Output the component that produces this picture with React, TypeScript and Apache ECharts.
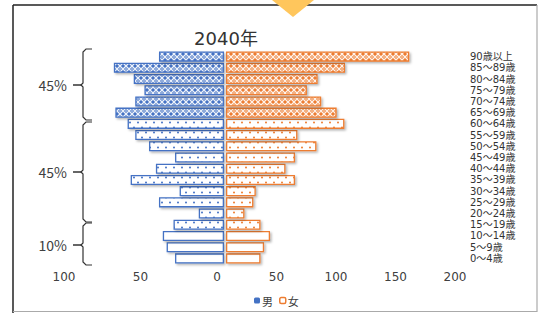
import React, { useEffect, useRef } from "react";
import * as echarts from "echarts";

// categories bottom (young) -> top (old)
const AGES = [
  "0～4歳", "5～9歳", "10～14歳", "15～19歳", "20～24歳", "25～29歳", "30～34歳",
  "35～39歳", "40～44歳", "45～49歳", "50～54歳", "55～59歳", "60～64歳",
  "65～69歳", "70～74歳", "75～79歳", "80～84歳", "85～89歳", "90歳以上",
];
const MALE = [32, 37.5, 40, 33, 16.5, 42.5, 29, 61, 44.5, 32, 49, 58, 63, 71, 58, 52, 59, 72, 42.5];
const FEMALE = [29, 32, 37, 29, 15.5, 23, 25, 58, 50, 58, 76, 60, 99.5, 93, 80, 68, 77, 100, 154];
// age group of each category: plain (0-14), dots (15-64), hatch (65+)
const GROUPS = [
  "plain", "plain", "plain",
  "dots", "dots", "dots", "dots", "dots", "dots", "dots", "dots", "dots", "dots",
  "hatch", "hatch", "hatch", "hatch", "hatch", "hatch",
];
const BRACKET_LABELS = ["45%", "45%", "10%"];
const TITLE = "2040年";

const BLUE = "#4472C4";
const ORANGE = "#ED7D31";

function makePattern(kind: string, color: string): any {
  if (kind === "plain") return "#ffffff";
  const c = document.createElement("canvas");
  if (kind === "hatch") {
    c.width = 6; c.height = 6;
    const ctx = c.getContext("2d")!;
    ctx.fillStyle = color;
    ctx.fillRect(0, 0, 6, 6);
    ctx.strokeStyle = "rgba(255,255,255,0.9)";
    ctx.lineWidth = 1.3;
    ctx.beginPath();
    ctx.moveTo(0, 0); ctx.lineTo(6, 6);
    ctx.moveTo(6, 0); ctx.lineTo(0, 6);
    ctx.stroke();
    ctx.fillStyle = "rgba(255,255,255,0.8)";
    ctx.fillRect(0, 2.5, 1, 1);
    ctx.fillRect(5, 2.5, 1, 1);
  } else {
    c.width = 8; c.height = 10;
    const ctx = c.getContext("2d")!;
    ctx.fillStyle = "#ffffff";
    ctx.fillRect(0, 0, 8, 10);
    ctx.fillStyle = color;
    ctx.beginPath(); ctx.arc(2, 2.5, 1, 0, Math.PI * 2); ctx.fill();
    ctx.beginPath(); ctx.arc(6, 7.5, 1, 0, Math.PI * 2); ctx.fill();
  }
  return { image: c, repeat: "repeat", imageWidth: c.width, imageHeight: c.height };
}

function barData(values: number[], color: string) {
  return values.map((v, i) => ({
    value: v,
    itemStyle: {
      color: makePattern(GROUPS[i], color),
      borderColor: color,
      borderWidth: 1.3,
      shadowColor: "rgba(0,0,0,0.3)",
      shadowBlur: 2,
      shadowOffsetX: 1.5,
      shadowOffsetY: 1.5,
    },
  }));
}

function brace(y1: number, y2: number, ym: number) {
  return [
    {
      type: "polyline",
      shape: {
        points: [
          [92, y1], [86, y1], [83, y1 + 3], [83, ym - 2], [81, ym], [83, ym + 2],
          [83, y2 - 3], [86, y2], [92, y2],
        ],
      },
      style: { stroke: "#333", lineWidth: 1.2, fill: "none" },
    },
    {
      type: "line",
      shape: { x1: 73, y1: ym, x2: 81, y2: ym },
      style: { stroke: "#333", lineWidth: 1.5 },
    },
  ];
}

export default function App() {
  const ref = useRef<HTMLDivElement>(null);
  useEffect(() => {
    const chart = echarts.init(ref.current!, null, { renderer: "svg" });
    const font = "'Noto Sans CJK JP', 'Noto Sans', sans-serif";
    const wide = "'DejaVu Sans', 'Noto Sans CJK JP', sans-serif";
    const braces = [
      [49, 120, 85],
      [122, 222, 172],
      [223, 265, 245],
    ];
    const graphics: any[] = [
      { type: "line", shape: { x1: 13, y1: 5, x2: 537, y2: 5 }, style: { stroke: "#222", lineWidth: 1.5 } },
      { type: "line", shape: { x1: 13, y1: 5, x2: 13, y2: 313 }, style: { stroke: "#222", lineWidth: 1.5 } },
      { type: "line", shape: { x1: 537, y1: 5, x2: 537, y2: 312 }, style: { stroke: "#aaa", lineWidth: 1.2 } },
      { type: "line", shape: { x1: 13, y1: 311.5, x2: 537, y2: 311.5 }, style: { stroke: "#aaa", lineWidth: 1.2 } },
      { type: "polygon", shape: { points: [[272, 0], [314, 0], [293, 17]] }, style: { fill: "#FFC65C" }, z: 10 },
    ];
    braces.forEach((b, i) => {
      graphics.push(...brace(b[0], b[1], b[2]));
      graphics.push({
        type: "text",
        x: 67, y: b[2],
        style: {
          text: BRACKET_LABELS[i], fill: "#404040", font: `14px ${font}`,
          align: "right", verticalAlign: "middle",
        },
      });
    });

    chart.setOption({
      animation: false,
      textStyle: { fontFamily: font },
      title: {
        text: TITLE, left: 221, top: 24, textAlign: "center",
        textStyle: { fontSize: 18, fontWeight: "normal", color: "#333", fontFamily: wide },
      },
      legend: {
        data: [
          { name: "男", itemStyle: { color: BLUE, borderWidth: 0, shadowBlur: 0 } },
          { name: "女", itemStyle: { color: "#fff", borderColor: ORANGE, borderWidth: 1.5, shadowBlur: 0 } },
        ],
        top: 290, left: 249, itemWidth: 6, itemHeight: 6, itemGap: 6,
        textStyle: { fontSize: 11, color: "#404040", padding: [0, 0, 0, -3] },
      },
      grid: [
        { left: 71, width: 153, top: 51, height: 213 },
        { left: 226, width: 238, top: 51, height: 213 },
      ],
      xAxis: [
        {
          gridIndex: 0, type: "value", inverse: true, min: 0, max: 100, interval: 50,
          axisLine: { show: false }, axisTick: { show: false }, splitLine: { show: false },
          axisLabel: { color: "#404040", fontSize: 12, fontFamily: wide, margin: 7, padding: [0, 14, 0, 0] },
        },
        {
          gridIndex: 1, type: "value", min: 0, max: 200, interval: 50,
          axisLine: { show: false }, axisTick: { show: false }, splitLine: { show: false },
          axisLabel: {
            color: "#404040", fontSize: 12, fontFamily: wide, margin: 7, padding: [0, 18, 0, 0],
            formatter: (v: number) => (v === 0 ? "" : String(v)),
          },
        },
      ],
      yAxis: [
        { gridIndex: 0, type: "category", data: AGES, show: false },
        {
          gridIndex: 1, type: "category", data: AGES, position: "right",
          axisLine: { show: false }, axisTick: { show: false },
          axisLabel: {
            align: "left", margin: 6, fontSize: 10, fontFamily: wide, color: "#333", interval: 0,
            lineHeight: 10,
          },
        },
      ],
      series: [
        {
          name: "男", type: "bar", xAxisIndex: 0, yAxisIndex: 0,
          barCategoryGap: "10%", data: barData(MALE, BLUE),
        },
        {
          name: "女", type: "bar", xAxisIndex: 1, yAxisIndex: 1,
          barCategoryGap: "10%", data: barData(FEMALE, ORANGE),
        },
      ],
      graphic: graphics,
    });
    return () => chart.dispose();
  }, []);
  return (
    <div
      ref={ref}
      style={{ position: "fixed", left: 0, top: 0, width: 539, height: 313, background: "#fff" }}
    />
  );
}
